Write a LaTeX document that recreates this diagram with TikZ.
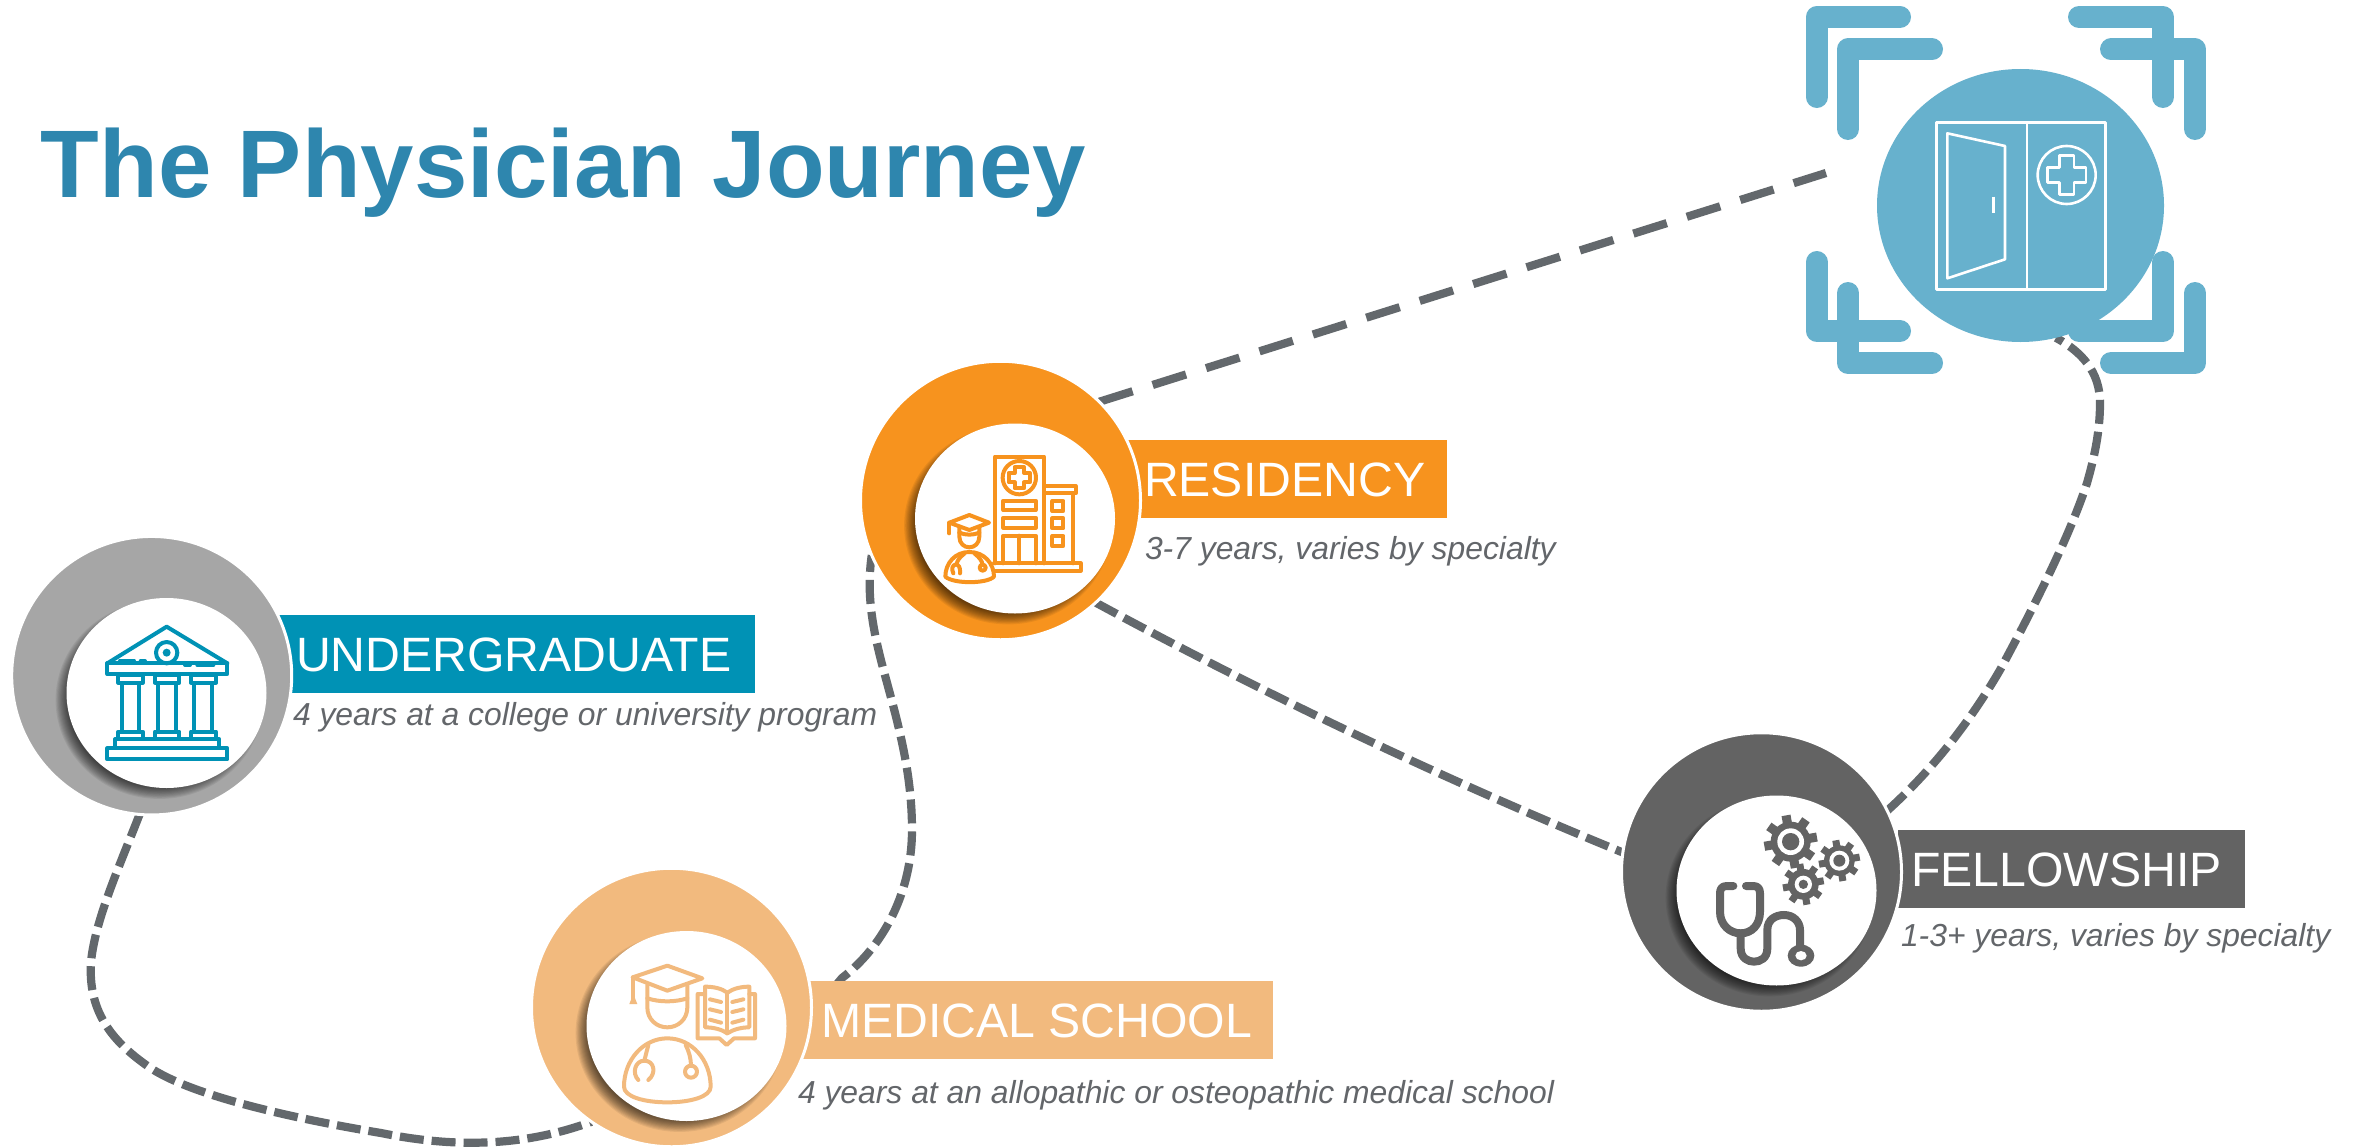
\documentclass[tikz,border=0pt]{standalone}
\usepackage{fontspec}
\setmainfont{Liberation Sans}
\usetikzlibrary{shapes.geometric,backgrounds}
\definecolor{ugcol}{HTML}{0092B5}
\definecolor{ugring}{HTML}{A6A6A6}
\definecolor{orcol}{HTML}{F7931E}
\definecolor{ltcol}{HTML}{F2BA7E}
\definecolor{dkcol}{HTML}{636363}
\definecolor{topcol}{HTML}{67B1CD}
\definecolor{dashcol}{HTML}{63686C}
\definecolor{titlecol}{HTML}{2E86AE}
\definecolor{subcol}{HTML}{63666A}
\tikzset{
  ringnode/.style={ellipse,draw=white,line width=3pt,inner sep=0pt,outer sep=0pt,minimum width=280pt,minimum height=278.5pt},
  innernode/.style={ellipse,fill=white,inner sep=0pt,outer sep=0pt,minimum width=200pt,minimum height=190pt},
  labelbox/.style={rectangle,anchor=north west,inner sep=0pt,outer sep=0pt,minimum height=78pt},
  labeltext/.style={anchor=base west,inner sep=0pt,outer sep=0pt,text=white,font=\fontsize{48.2}{50}\selectfont},
  subtext/.style={anchor=base west,inner sep=0pt,outer sep=0pt,text=subcol,font=\fontsize{31.85}{36}\selectfont\itshape},
  pathdash/.style={draw=dashcol,line width=8.2pt,dash pattern=on 24pt off 8pt},
  longdash/.style={draw=dashcol,line width=8.2pt,dash pattern=on 35pt off 21pt},
  bracket/.style={draw=topcol,line width=22pt,line cap=round,line join=round},
  iconline/.style={line width=4pt,line join=round,line cap=round},
}
\newcommand{\softshadow}[2]{%
  \foreach \i in {1,...,12}{%
    \fill[black,opacity=.065] ({#1-7},{#2+7}) ellipse [x radius={100+5-1.1*\i},y radius={95+5-1.1*\i}];
  }}
\newcommand{\crossat}[4]{% cx cy halfwidth arm
  ({#1-#3},{#2-#4}) -- ({#1+#3},{#2-#4}) -- ({#1+#3},{#2-#3}) -- ({#1+#4},{#2-#3}) -- ({#1+#4},{#2+#3}) -- ({#1+#3},{#2+#3}) -- ({#1+#3},{#2+#4}) -- ({#1-#3},{#2+#4}) -- ({#1-#3},{#2+#3}) -- ({#1-#4},{#2+#3}) -- ({#1-#4},{#2-#3}) -- ({#1-#3},{#2-#3}) -- cycle}
\newcommand{\gearat}[6]{% x y R body ringout ringin
  \fill[dkcol] (#1,#2) circle [radius=#4];
  \foreach \a in {0,45,...,315}{%
    \fill[dkcol,rotate around={\a+10:(#1,#2)}] ({#1-0.17*#3},#2) rectangle ({#1+0.17*#3},{#2+#3});
  }
  \fill[white] (#1,#2) circle [radius=#5];
  \fill[dkcol] (#1,#2) circle [radius=#6];
}
\begin{document}
\begin{tikzpicture}[x=1pt,y=-1pt]
\useasboundingbox (0,0) rectangle (2356,1148);

% title
\node[anchor=base west,inner sep=0pt,text=titlecol,font=\fontsize{96}{100}\selectfont\bfseries] (title) at (40.5,197) {The Physician Journey};

% label boxes
\node[labelbox,fill=ugcol,minimum width=476pt] (ugbox) at (279,615) {};
\node[labelbox,fill=orcol,minimum width=319pt] (rsbox) at (1128,440) {};
\node[labelbox,fill=ltcol,minimum width=470pt] (mdbox) at (803,981) {};
\node[labelbox,fill=dkcol,minimum width=347pt] (flbox) at (1898,830) {};

% outer rings
\node[ringnode,fill=ugring] (ug) at (151.7,675.7) {};
\node[ringnode,fill=orcol] (rs) at (1000.5,500.5) {};
\node[ringnode,fill=ltcol] (md) at (671.5,1007.5) {};
\node[ringnode,fill=dkcol] (fl) at (1761.5,872) {};

% shadows and inner discs
\softshadow{166.5}{693}
\node[innernode] (ugin) at (166.5,693) {};
\softshadow{1015}{518.5}
\node[innernode] (rsin) at (1015,518.5) {};
\softshadow{686.5}{1026}
\node[innernode] (mdin) at (686.5,1026) {};
\softshadow{1776.5}{890.5}
\node[innernode] (flin) at (1776.5,890.5) {};

% label text
\node[labeltext] (ugt) at (296,671) {UNDERGRADUATE};
\node[labeltext] (rst) at (1144,496) {RESIDENCY};
\node[labeltext] (mdt) at (821,1037) {MEDICAL SCHOOL};
\node[labeltext] (flt) at (1911,886) {FELLOWSHIP};
\node[subtext] (ugs) at (293,725) {4 years at a college or university program};
\node[subtext] (rss) at (1145,559) {3-7 years, varies by specialty};
\node[subtext] (mds) at (798,1103) {4 years at an allopathic or osteopathic medical school};
\node[subtext] (fls) at (1901,946) {1-3+ years, varies by specialty};

% top brackets
\draw[bracket] (1816.7,97) -- (1816.7,17) -- (1900,17);
\draw[bracket] (1848,129) -- (1848,49.5) -- (1932,49.5);
\draw[bracket] (2079,17) -- (2163,17) -- (2163,97);
\draw[bracket] (2111,49.5) -- (2195,49.5) -- (2195,129);
\draw[bracket] (1816.7,262) -- (1816.7,331) -- (1900,331);
\draw[bracket] (1848,293) -- (1848,363) -- (1932,363);
\draw[bracket] (2163,262) -- (2163,331) -- (2079,331);
\draw[bracket] (2195,293) -- (2195,363) -- (2111,363);
\node[ellipse,fill=topcol,inner sep=0pt,outer sep=0pt,minimum width=287pt,minimum height=273pt] (top) at (2020.5,205.5) {};
\coordinate (topend) at (1826,173);

% connectors, beneath everything
\begin{pgfonlayer}{background}
\fill[white] (0,0) rectangle (2356,1148);
\draw[pathdash] (ug.-95) .. controls (120,865) and (95,920) .. (91,962) .. controls (88,1010) and (110,1040) .. (149,1067) .. controls (190,1095) and (290,1118) .. (381,1133) .. controls (450,1147) and (520,1148) .. (md.-125);
\draw[pathdash] (md.-3) -- (842,978) .. controls (885,945) and (912,890) .. (912,830) .. controls (912,770) and (897,720) .. (883,668) .. controls (873,630) and (866,595) .. (rs.203);
\draw[longdash] (rs.45) -- (topend);
\draw[pathdash] (rs.-47) .. controls (1270,697) and (1450,782) .. (fl.172);
\draw[pathdash] (fl.26) .. controls (1930,772) and (1968,725) .. (2000,670) .. controls (2035,605) and (2070,535) .. (2087,483) .. controls (2095,455) and (2100,430) .. (2100,403) .. controls (2100,372) and (2082,352) .. (top.-75);
\end{pgfonlayer}

% undergraduate icon
\begin{scope}[shift={(0,530)},scale=0.33333,iconline,draw=ugcol]
\draw[ugcol] (322,400) -- (500,290) -- (682,400);
\draw[ugcol] (322,400) rectangle (682,432);
\foreach \xa/\xb/\xc/\xd in {355/428/365/418,465/538/475/528,573/648/583/637}{
  \draw[ugcol] (\xa,434) rectangle (\xb,458);
  \draw[ugcol] (\xc,458) rectangle (\xd,605);
  \draw[ugcol] (\xa,605) rectangle (\xb,628);
}
\draw[ugcol] (345,628) rectangle (658,655);
\draw[ugcol] (322,655) rectangle (682,688);
\draw[ugcol] (500,368) circle [radius=32];
\fill[ugcol] (500,368) circle [radius=12];
\draw[ugcol] (360,392) -- (402,392) (422,393) -- (435,393) (555,405) -- (570,405) (592,405) -- (640,405);
\end{scope}

% residency icon
\begin{scope}[shift={(840,350)},scale=0.33333,iconline]
\begin{scope}[orcol]
\draw (465,640) -- (465,320) -- (612,320) -- (612,640);
\draw (538,383) circle [radius=50];
\draw \crossat{538}{383}{14}{32};
\draw (490,452) rectangle (587,480);
\draw (490,503) rectangle (587,533);
\draw (490,640) -- (490,557) -- (587,557) -- (587,640) (538,557) -- (538,640);
\draw (612,430) -- (700,430) -- (700,640);
\draw (612,408) rectangle (707,430);
\draw (637,453) rectangle (670,483);
\draw (637,505) rectangle (670,535);
\draw (637,558) rectangle (670,588);
\draw (462,640) -- (722,640) -- (722,662) -- (462,662);
\draw (328,518) -- (388,495) -- (447,518) -- (388,540) -- cycle;
\draw (328,518) -- (328,550);
\draw (358,530) -- (358,560) .. controls (358,580) and (372,592) .. (388,592) .. controls (404,592) and (418,580) .. (418,560) -- (418,530);
\draw (358,548) .. controls (378,556) and (398,556) .. (418,548);
\draw (316,680) .. controls (316,640) and (345,606) .. (388,606) .. controls (432,606) and (462,640) .. (462,680) .. controls (440,702) and (340,702) .. (316,680) -- cycle;
\draw (372,612) .. controls (358,622) and (352,632) .. (350,642);
\draw (340,670) .. controls (325,640) and (365,630) .. (360,670);
\draw (405,612) .. controls (418,622) and (426,632) .. (428,645);
\draw (428,653) circle [radius=9];
\end{scope}
\end{scope}

% medical school icon
\begin{scope}[shift={(520,870)},scale=0.33333,iconline]
\begin{scope}[ltcol]
\draw (338,322) -- (442,287) -- (547,325) -- (442,362) -- cycle;
\draw (338,322) -- (338,385);
\fill (328,402) -- (352,402) -- (340,372) -- cycle;
\draw (382,345) -- (382,412) .. controls (382,448) and (410,472) .. (442,472) .. controls (474,472) and (502,448) .. (502,412) -- (502,345);
\draw (382,385) .. controls (420,397) and (464,397) .. (502,385);
\draw (312,650) .. controls (312,570) and (370,505) .. (442,505) .. controls (515,505) and (572,570) .. (572,650) .. controls (572,680) and (512,697) .. (442,697) .. controls (372,697) and (312,680) .. (312,650) -- cycle;
\draw (385,525) -- (373,572);
\draw (355,630) .. controls (335,610) and (345,572) .. (373,572) .. controls (403,572) and (410,610) .. (385,630);
\draw (497,525) .. controls (507,545) and (513,565) .. (513,588);
\draw (513,605) circle [radius=18];
\draw (555,350) .. controls (580,350) and (605,355) .. (622,368) .. controls (640,355) and (665,350) .. (688,350) -- (688,472) .. controls (665,472) and (640,478) .. (622,490) .. controls (605,478) and (580,472) .. (555,472) -- cycle;
\draw (622,368) -- (622,490);
\draw (555,372) -- (533,372) -- (533,505) -- (598,505) -- (620,525) -- (642,505) -- (705,505) -- (705,372) -- (688,372);
\draw (570,388) -- (603,396) (570,418) -- (603,426) (570,449) -- (603,458);
\draw (637,396) -- (670,388) (637,426) -- (670,418) (637,458) -- (670,449);
\end{scope}
\end{scope}

% fellowship icon
\begin{scope}[shift={(1610,730)},scale=0.33333]
\gearat{542}{335}{80}{60}{40}{26}
\gearat{688}{392}{62}{46}{30}{18}
\gearat{580}{463}{62}{46}{26}{14}
\draw[dkcol,line width=8pt,line cap=round,line join=round] (370,468) -- (350,468) .. controls (335,468) and (330,478) .. (330,490) -- (330,545) .. controls (330,585) and (360,610) .. (392,610) .. controls (425,610) and (450,585) .. (450,545) -- (450,490) .. controls (450,478) and (445,468) .. (430,468) -- (408,468);
\draw[dkcol,line width=8pt,line cap=round] (392,610) -- (392,655) .. controls (392,685) and (415,695) .. (432,695) .. controls (450,695) and (472,685) .. (472,655) -- (472,600) .. controls (472,570) and (495,555) .. (522,555) .. controls (550,555) and (570,575) .. (570,600) -- (570,650);
\fill[dkcol] (573,677) ellipse [x radius=40,y radius=33];
\fill[white] (573,677) ellipse [x radius=17,y radius=14];
\end{scope}

% top door icon
\begin{scope}[shift={(1780,0)},scale=0.33333,line width=2.6pt,line join=round]
\draw[white] (470,368) rectangle (976,868);
\draw[white] (741,368) -- (741,868);
\draw[white] (502,400) -- (675,438) -- (675,778) -- (502,835) -- cycle;
\draw[white] (640,590) -- (640,638);
\draw[white] (860,525) circle [radius=87];
\draw[white] \crossat{860}{525}{22}{58};
\end{scope}
\end{tikzpicture}
\end{document}
